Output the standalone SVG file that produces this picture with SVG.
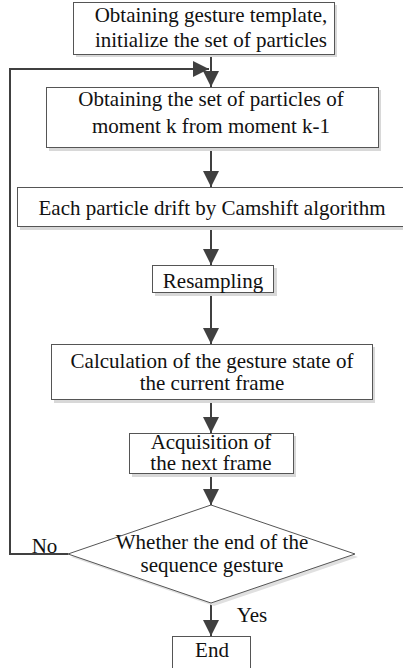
<svg xmlns="http://www.w3.org/2000/svg" width="403" height="668" viewBox="0 0 403 668">
<style>
.box{fill:#fff;stroke:#555;stroke-width:1}
.sh{fill:#d8d8d8}
text{font-family:'Liberation Serif','DejaVu Serif',serif;font-size:21px;fill:#111;text-anchor:middle}
.c{fill:none;stroke:#404040;stroke-width:2}
</style>
<defs>
<marker id="ah" viewBox="0 0 10 10" refX="10" refY="5" markerWidth="16" markerHeight="16" markerUnits="userSpaceOnUse" orient="auto">
<path d="M0,0 L10,5 L0,10 z" fill="#404040"/>
</marker>
</defs>
<rect width="403" height="668" fill="#fff"/>
<g id="connectors">
<line class="c" x1="211" y1="54" x2="211" y2="87" marker-end="url(#ah)"/>
<polyline class="c" points="68,554 10,554 10,69 209,69" marker-end="url(#ah)"/>
<line class="c" x1="211" y1="148" x2="211" y2="187" marker-end="url(#ah)"/>
<line class="c" x1="211" y1="227" x2="211" y2="265" marker-end="url(#ah)"/>
<line class="c" x1="211" y1="293" x2="211" y2="344" marker-end="url(#ah)"/>
<line class="c" x1="211" y1="400" x2="211" y2="433" marker-end="url(#ah)"/>
<line class="c" x1="211" y1="474" x2="211" y2="505" marker-end="url(#ah)"/>
<line class="c" x1="211" y1="603" x2="211" y2="636" marker-end="url(#ah)"/>
<text x="44.5" y="553">No</text>
<text x="252" y="622" font-size="20">Yes</text>
</g>
<g id="n1">
<rect class="sh" x="76" y="5" width="261" height="52"/>
<rect class="box" x="73.5" y="2.5" width="261" height="52"/>
<text x="211" y="22">Obtaining gesture template,</text>
<text x="211" y="47">initialize the set of particles</text>
</g>
<g id="n2">
<rect class="sh" x="49" y="90" width="332" height="61"/>
<rect class="box" x="46.5" y="87.5" width="332" height="60"/>
<text x="211" y="106">Obtaining the set of particles of</text>
<text x="211" y="133">moment k from moment k-1</text>
</g>
<g id="n3">
<rect class="sh" x="20" y="190" width="390" height="40"/>
<rect class="box" x="17.5" y="187.5" width="390" height="39"/>
<text x="212" y="215">Each particle drift by Camshift algorithm</text>
</g>
<g id="n4">
<rect class="sh" x="155" y="268" width="122" height="28"/>
<rect class="box" x="152.5" y="265.5" width="121" height="27"/>
<text x="213" y="288">Resampling</text>
</g>
<g id="n5">
<rect class="sh" x="54" y="347" width="321" height="56"/>
<rect class="box" x="51.5" y="344.5" width="321" height="55"/>
<text x="212" y="368">Calculation of the gesture state of</text>
<text x="212" y="390">the current frame</text>
</g>
<g id="n6">
<rect class="sh" x="132" y="436" width="164" height="41"/>
<rect class="box" x="129.5" y="433.5" width="164" height="40"/>
<text x="211" y="449">Acquisition of</text>
<text x="211" y="470">the next frame</text>
</g>
<g id="n7">
<polygon points="214,508 358,557 214,606 71,557" fill="#e0e0e0"/>
<polygon points="211,505 355,554 211,603 68,554" fill="#fff" stroke="#555" stroke-width="1"/>
<text x="212" y="549">Whether the end of the</text>
<text x="212" y="572">sequence gesture</text>
</g>
<g id="n8">
<rect class="box" x="172.5" y="636.5" width="78" height="40"/>
<text x="212" y="657">End</text>
</g>
</svg>
